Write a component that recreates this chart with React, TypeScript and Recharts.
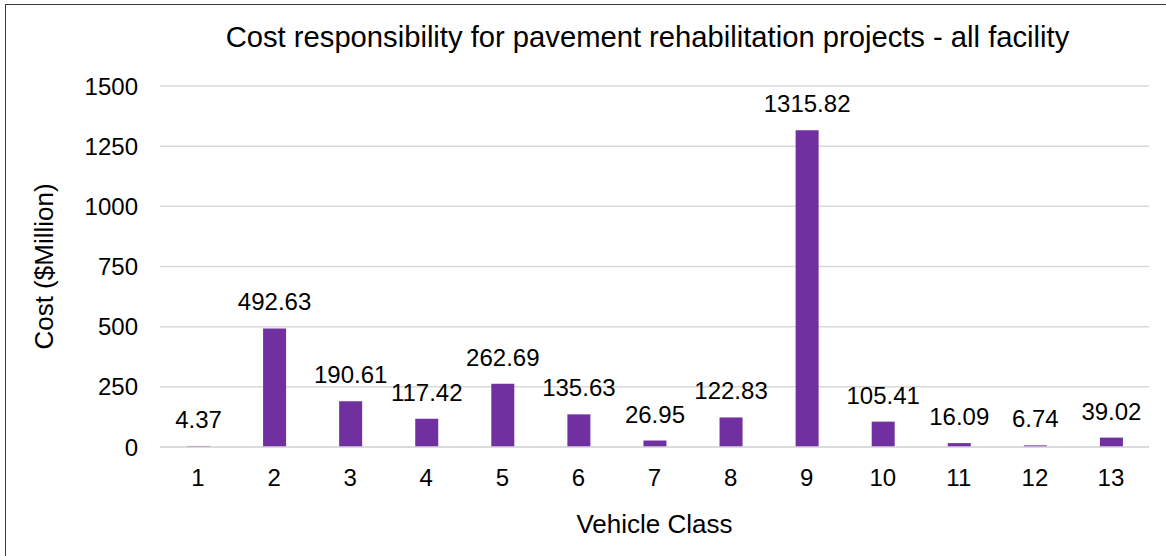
import React from "react";
import { BarChart, Bar, XAxis, YAxis, CartesianGrid, LabelList, Label } from "recharts";

const categories = ["1", "2", "3", "4", "5", "6", "7", "8", "9", "10", "11", "12", "13"];
const costValues = [4.37, 492.63, 190.61, 117.42, 262.69, 135.63, 26.95, 122.83, 1315.82, 105.41, 16.09, 6.74, 39.02];
const yTicks = [0, 250, 500, 750, 1000, 1250, 1500];

const data = categories.map((c, i) => ({ name: c, cost: costValues[i] }));

const FONT = "'Liberation Sans', Arial, sans-serif";

export default function App() {
  return (
    <div style={{ position: "absolute", left: 0, top: 0, width: 1166, height: 556, background: "#fff", overflow: "hidden", fontFamily: FONT }}>
      <div style={{ position: "absolute", left: 5, top: 4, width: 1170, height: 560, borderLeft: "1px solid #3a3a3a", borderTop: "1px solid #3a3a3a" }} />
      <div style={{ position: "absolute", left: 0, top: 23, width: 1295, textAlign: "center", fontSize: 29.2, lineHeight: "29px", color: "#000", whiteSpace: "nowrap" }}>
        Cost responsibility for pavement rehabilitation projects - all facility
      </div>
      <div style={{ position: "absolute", left: 0, top: 0 }}>
        <BarChart width={1166} height={556} data={data} margin={{ top: 86, right: 17, bottom: 0, left: 0 }} barSize={23}>
          <CartesianGrid vertical={false} stroke="#d9d9d9" strokeWidth={1.5} />
          <XAxis
            dataKey="name"
            height={109}
            tickLine={false}
            axisLine={{ stroke: "#d9d9d9", strokeWidth: 1.5 }}
            tickMargin={16}
            tick={{ fill: "#000", fontSize: 24, fontFamily: FONT }}
            interval={0}
          >
            <Label value="Vehicle Class" position="insideBottom" offset={23} style={{ fill: "#000", fontSize: 26, fontFamily: FONT }} />
          </XAxis>
          <YAxis
            width={160}
            domain={[0, 1500]}
            ticks={yTicks}
            tickLine={false}
            axisLine={false}
            tickMargin={16}
            tick={{ fill: "#000", fontSize: 24, fontFamily: FONT }}
          >
            <Label value="Cost ($Million)" angle={-90} position="insideLeft" offset={44} style={{ fill: "#000", fontSize: 26, fontFamily: FONT, textAnchor: "middle" }} />
          </YAxis>
          <Bar dataKey="cost" fill="#7030A0" isAnimationActive={false}>
            <LabelList dataKey="cost" position="top" offset={18} style={{ fill: "#000", fontSize: 24, fontFamily: FONT }} />
          </Bar>
        </BarChart>
      </div>
    </div>
  );
}
